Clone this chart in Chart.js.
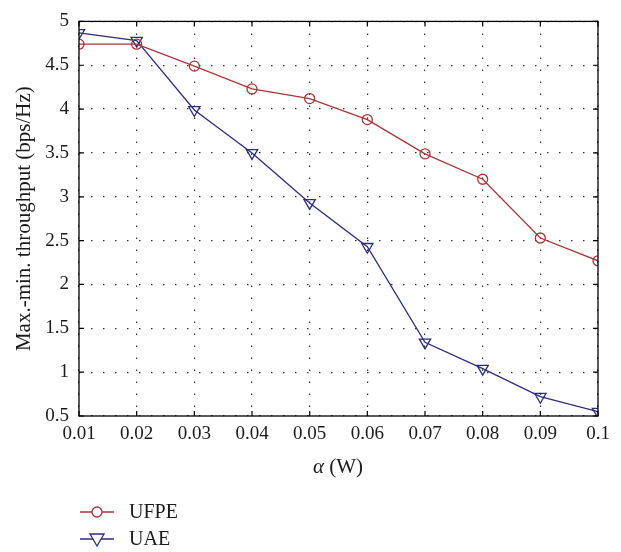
<!DOCTYPE html>
<html><head><meta charset="utf-8">
<script src="https://cdn.jsdelivr.net/npm/chart.js@4/dist/chart.umd.min.js"></script>
<style>html,body{margin:0;padding:0;background:#fff}#wrap{width:621px;height:552px;position:relative}</style>
</head><body><div id="wrap"><canvas id="c" width="621" height="552"></canvas></div>
<script>
const xValues = [0.01,0.02,0.03,0.04,0.05,0.06,0.07,0.08,0.09,0.1];
const ufpe = [4.74,4.74,4.49,4.23,4.12,3.88,3.49,3.20,2.53,2.27];
const uae  = [4.87,4.78,3.99,3.50,2.93,2.43,1.34,1.04,0.72,0.55];
const xTickLabels = ['0.01','0.02','0.03','0.04','0.05','0.06','0.07','0.08','0.09','0.1'];
const yTickValues = [0.5,1,1.5,2,2.5,3,3.5,4,4.5,5];
const yTickLabels = ['0.5','1','1.5','2','2.5','3','3.5','4','4.5','5'];
const seriesNames = ['UFPE','UAE'];

const RED = '#a8353a', BLUE = '#2c2c7c';
const TXT = '#1a1a1a';
const FONT = '"Liberation Serif", "DejaVu Serif", serif';

const frame = {
  id:'frame',
  afterDraw(chart){
    const {ctx, chartArea:a, scales:{x,y}} = chart;
    ctx.save();
    ctx.strokeStyle='#000'; ctx.lineWidth=1.3;
    ctx.strokeRect(a.left, a.top, a.right-a.left, a.bottom-a.top);
    ctx.lineWidth=1.2;
    const L=5;
    xValues.forEach(v=>{const px=x.getPixelForValue(v);
      ctx.beginPath();ctx.moveTo(px,a.bottom);ctx.lineTo(px,a.bottom-L);ctx.moveTo(px,a.top);ctx.lineTo(px,a.top+L);ctx.stroke();});
    yTickValues.forEach(v=>{const py=y.getPixelForValue(v);
      ctx.beginPath();ctx.moveTo(a.left,py);ctx.lineTo(a.left+L,py);ctx.moveTo(a.right,py);ctx.lineTo(a.right-L,py);ctx.stroke();});
    // x title
    ctx.fillStyle=TXT; ctx.textBaseline='middle';
    const cx=338, ty=467;
    ctx.font='italic 21px '+FONT; const w1=ctx.measureText('α').width;
    ctx.font='21px '+FONT; const t2=' (W)'; const w2=ctx.measureText(t2).width;
    let sx=cx-(w1+w2)/2;
    ctx.font='italic 21px '+FONT; ctx.textAlign='left'; ctx.fillText('α',sx,ty);
    ctx.font='21px '+FONT; ctx.fillText(t2,sx+w1,ty);
    // legend
    const items=[{n:seriesNames[0],c:RED,s:'circle'},{n:seriesNames[1],c:BLUE,s:'tri'}];
    items.forEach((it,i)=>{
      const ly=512+i*27;
      ctx.strokeStyle=it.c; ctx.lineWidth=1.3;
      ctx.beginPath();ctx.moveTo(80,ly);ctx.lineTo(114,ly);ctx.stroke();
      ctx.fillStyle='#fff';
      if(it.s==='circle'){ctx.beginPath();ctx.arc(97,ly,5,0,Math.PI*2);ctx.fill();ctx.stroke();}
      else {ctx.beginPath();ctx.moveTo(90,ly-5);ctx.lineTo(104,ly-5);ctx.lineTo(97,ly+7);ctx.closePath();ctx.fill();ctx.stroke();}
      ctx.fillStyle=TXT; ctx.font='20px '+FONT; ctx.textAlign='left'; ctx.fillText(it.n,129,ly+1);
    });
    ctx.restore();
  }
};

new Chart(document.getElementById('c'),{
  type:'line',
  data:{datasets:[
    {label:seriesNames[0],data:xValues.map((v,i)=>({x:v,y:ufpe[i]})),borderColor:RED,backgroundColor:'rgba(255,255,255,0)',borderWidth:1.3,pointStyle:'circle',pointRadius:5,pointBorderWidth:1.3,pointBorderColor:RED,tension:0},
    {label:seriesNames[1],data:xValues.map((v,i)=>({x:v,y:uae[i]})),borderColor:BLUE,backgroundColor:'rgba(255,255,255,0)',borderWidth:1.3,pointStyle:'triangle',rotation:180,pointRadius:6.5,pointBorderWidth:1.3,pointBorderColor:BLUE,tension:0}
  ]},
  options:{
    responsive:false,animation:false,
    layout:{padding:{top:10,right:23,left:0,bottom:0}},
    plugins:{legend:{display:false},tooltip:{enabled:false}},
    scales:{
      x:{type:'linear',min:0.01,max:0.1,
        afterBuildTicks(s){s.ticks=xValues.map(v=>({value:v}));},
        afterFit(s){s.height=136;},
        ticks:{color:TXT,font:{family:FONT,size:19},padding:7,maxRotation:0,autoSkip:false,
          callback:(v,i)=>xTickLabels[i]},
        grid:{drawTicks:false,color:'#333',lineWidth:1.2},
        border:{display:false,dash:[1.5,10.5]}
      },
      y:{type:'linear',min:0.5,max:5,
        afterBuildTicks(s){s.ticks=yTickValues.map(v=>({value:v}));},
        afterFit(s){s.width=79;},
        ticks:{color:TXT,font:{family:FONT,size:19},padding:10,autoSkip:false,
          callback:(v,i)=>yTickLabels[i]},
        grid:{drawTicks:false,color:'#333',lineWidth:1.2},
        border:{display:false,dash:[1.5,10.5]},
        title:{display:true,text:'Max.-min. throughput (bps/Hz)',color:TXT,font:{family:FONT,size:21},padding:{top:12,bottom:0}}
      }
    }
  },
  plugins:[frame]
});
</script></body></html>
